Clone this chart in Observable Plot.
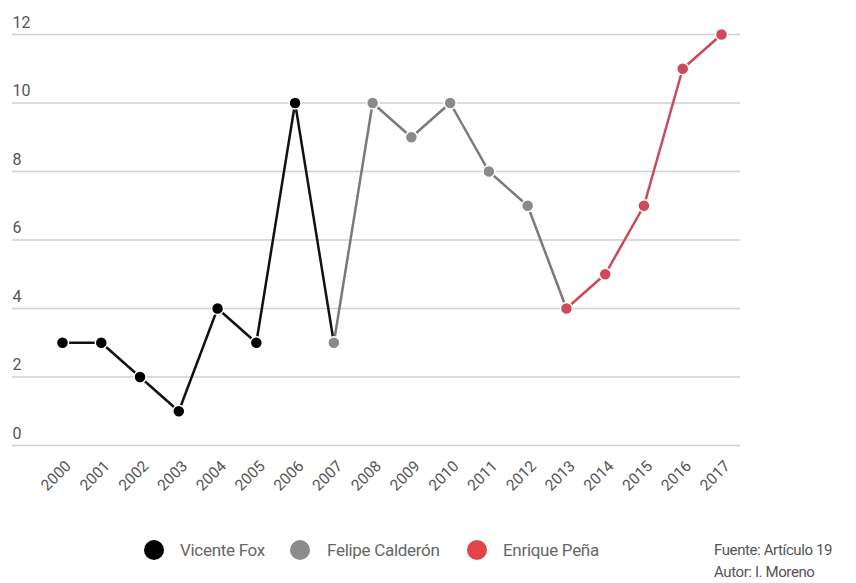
<!DOCTYPE html>
<html>
<head>
<meta charset="utf-8">
<script src="https://cdn.jsdelivr.net/npm/d3@7"></script>
<script src="https://cdn.jsdelivr.net/npm/@observablehq/plot@0.6"></script>
<style>
  body { margin: 0; background: #fff; font-family: Roboto, "Noto Sans", sans-serif; }
  #wrap { position: relative; width: 856px; height: 583px; overflow: hidden; }
  .sw { position: absolute; width: 20px; height: 20px; border-radius: 50%; top: 540px; }
  .lt { position: absolute; top: 539px; font-size: 17px; line-height: 22px; color: #666; letter-spacing: -0.3px; white-space: nowrap; }
  .foot { position: absolute; left: 714px; font-size: 15px; line-height: 18px; color: #555; letter-spacing: -0.4px; white-space: nowrap; }
</style>
</head>
<body>
<div id="wrap">
  <div id="chart"></div>
</div>
<script>
const years = [2000, 2001, 2002, 2003, 2004, 2005, 2006, 2007, 2008, 2009, 2010, 2011, 2012, 2013, 2014, 2015, 2016, 2017];
const values = [3, 3, 2, 1, 4, 3, 10, 3, 10, 9, 10, 8, 7, 4, 5, 7, 11, 12];
const presidents = ["Vicente Fox", "Vicente Fox", "Vicente Fox", "Vicente Fox", "Vicente Fox", "Vicente Fox", "Vicente Fox",
  "Felipe Calderón", "Felipe Calderón", "Felipe Calderón", "Felipe Calderón", "Felipe Calderón", "Felipe Calderón",
  "Enrique Peña", "Enrique Peña", "Enrique Peña", "Enrique Peña", "Enrique Peña"];
const seriesNames = ["Vicente Fox", "Felipe Calderón", "Enrique Peña"];
const lineColors = ["#111111", "#7a7a7a", "#c94a58"];
const dotColors = ["#000000", "#8a8a8a", "#d0495a"];
const legendColors = ["#000000", "#8c8c8c", "#e3444c"];
const yTicks = [0, 2, 4, 6, 8, 10, 12];
const source = "Fuente: Artículo 19";
const author = "Autor: I. Moreno";

const data = years.map((y, i) => ({year: y, value: values[i], president: presidents[i]}));
const segs = data.slice(0, -1).map((d, i) => ({x1: d.year, y1: d.value, x2: data[i + 1].year, y2: data[i + 1].value, president: d.president}));
const lineColor = Object.fromEntries(seriesNames.map((n, i) => [n, lineColors[i]]));
const dotColor = Object.fromEntries(seriesNames.map((n, i) => [n, dotColors[i]]));

const chart = Plot.plot({
  width: 856,
  height: 500,
  marginLeft: 12,
  marginRight: 116,
  marginTop: 34,
  marginBottom: 55,
  insetLeft: 50,
  insetRight: 19,
  x: {type: "linear", domain: [2000, 2017], axis: null},
  y: {domain: [0, 12], axis: null},
  style: {fontFamily: "Roboto, sans-serif", background: "#fff"},
  marks: [
    Plot.ruleY(yTicks, {stroke: "#cfcfcf", strokeWidth: 1.5}),
    Plot.text(yTicks, {y: d => d, text: d => String(d), frameAnchor: "left", textAnchor: "start", dy: -12, fontSize: 16, fill: "#555"}),
    Plot.text(years, {x: d => d, y: 0, text: d => String(d), rotate: -45, textAnchor: "end", dx: 6, dy: 18, fontSize: 15.5, fill: "#555"}),
    Plot.link(segs, {x1: "x1", y1: "y1", x2: "x2", y2: "y2", stroke: d => lineColor[d.president], strokeWidth: 2.5}),
    Plot.dot(data, {x: "year", y: "value", r: 6, fill: d => dotColor[d.president], stroke: "#fff", strokeWidth: 1.5})
  ]
});
document.getElementById("chart").appendChild(chart);

const wrap = document.getElementById("wrap");
const swatchCenters = [154, 300, 477];
const textLefts = [180, 327, 503];
seriesNames.forEach((n, i) => {
  const sw = document.createElement("div");
  sw.className = "sw";
  sw.style.left = (swatchCenters[i] - 10) + "px";
  sw.style.background = legendColors[i];
  wrap.appendChild(sw);
  const t = document.createElement("div");
  t.className = "lt";
  t.style.left = textLefts[i] + "px";
  t.textContent = n;
  wrap.appendChild(t);
});
[source, author].forEach((t, i) => {
  const el = document.createElement("div");
  el.className = "foot";
  el.style.top = (541 + i * 22) + "px";
  el.textContent = t;
  wrap.appendChild(el);
});
</script>
</body>
</html>
